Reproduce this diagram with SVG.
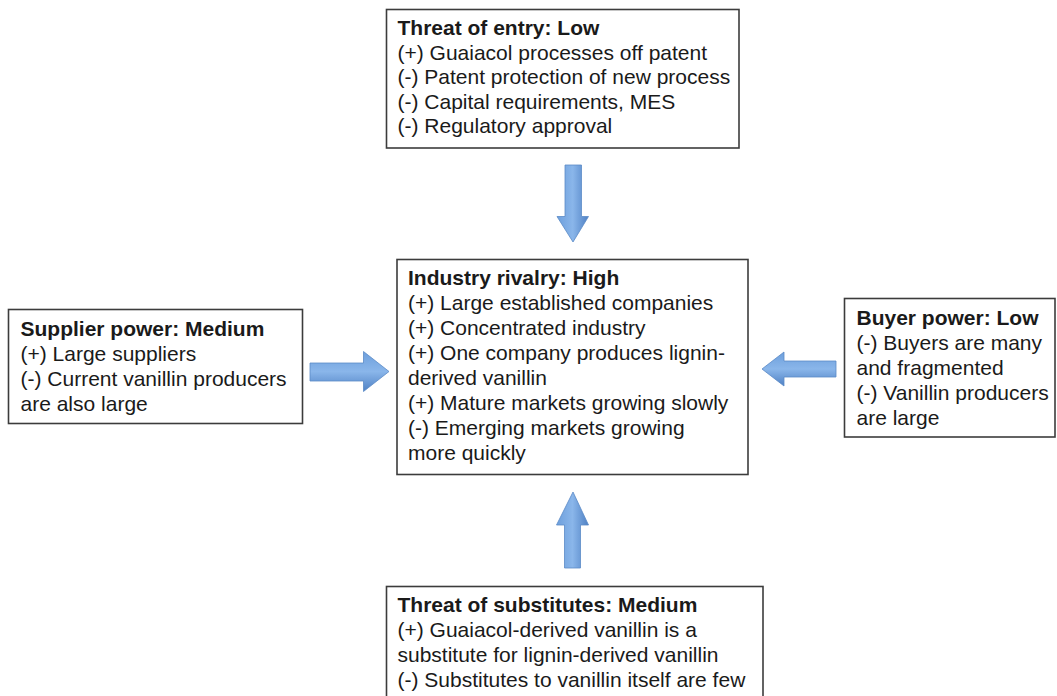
<svg xmlns="http://www.w3.org/2000/svg" width="1057" height="696" viewBox="0 0 1057 696">
<defs>
<linearGradient id="gv" x1="0" y1="0" x2="1" y2="0">
<stop offset="0" stop-color="#6d9fdc"/>
<stop offset="0.5" stop-color="#8ab6ea"/>
<stop offset="1" stop-color="#4f81c4"/>
</linearGradient>
<linearGradient id="gh" x1="0" y1="0" x2="0" y2="1">
<stop offset="0" stop-color="#6d9fdc"/>
<stop offset="0.5" stop-color="#8ab6ea"/>
<stop offset="1" stop-color="#4f81c4"/>
</linearGradient>
</defs>
<style>
.box{fill:#fff;stroke:#3c3c3c;stroke-width:1.6}
text{font-family:"Liberation Sans",Arial,sans-serif;font-size:21px;fill:#1a1a1a}
.t{font-weight:bold}
.av{fill:url(#gv);stroke:#5a8ac6;stroke-width:0.8}
.ah{fill:url(#gh);stroke:#5a8ac6;stroke-width:0.8}
</style>
<rect width="1057" height="696" fill="#fff"/>
<g id="connectors">
<path class="av" d="M565,165 H581.5 V216.5 H588.5 L573,242 L557,216.5 H565 Z"/>
<path class="av" d="M564.5,568 H580.5 V525 H588.5 L573,492 L556.5,525 H564.5 Z"/>
<path class="ah" d="M310,363 V381 H363.5 V391.5 L389,371.5 L363.5,351.5 V363 Z"/>
<path class="ah" d="M836,361 V377 H784 V386 L762,369 L784,352 V361 Z"/>
</g>
<g id="entry">
<rect class="box" x="386.5" y="9.5" width="352.5" height="138.5"/>
<text x="397.5" y="35" class="t">Threat of entry: Low</text>
<text x="397.5" y="59.5">(+) Guaiacol processes off patent</text>
<text x="397.5" y="84">(-) Patent protection of new process</text>
<text x="397.5" y="108.5">(-) Capital requirements, MES</text>
<text x="397.5" y="133">(-) Regulatory approval</text>
</g>
<g id="rivalry">
<rect class="box" x="397" y="259.5" width="351" height="215"/>
<text x="408" y="285" class="t">Industry rivalry: High</text>
<text x="408" y="310">(+) Large established companies</text>
<text x="408" y="335">(+) Concentrated industry</text>
<text x="408" y="360">(+) One company produces lignin-</text>
<text x="408" y="385">derived vanillin</text>
<text x="408" y="410">(+) Mature markets growing slowly</text>
<text x="408" y="435">(-) Emerging markets growing</text>
<text x="408" y="460">more quickly</text>
</g>
<g id="supplier">
<rect class="box" x="8.5" y="309.5" width="294" height="114"/>
<text x="20.5" y="336" class="t">Supplier power: Medium</text>
<text x="20.5" y="361">(+) Large suppliers</text>
<text x="20.5" y="386">(-) Current vanillin producers</text>
<text x="20.5" y="411">are also large</text>
</g>
<g id="buyer">
<rect class="box" x="844.5" y="298.5" width="210.5" height="138.5"/>
<text x="856.5" y="325" class="t">Buyer power: Low</text>
<text x="856.5" y="350">(-) Buyers are many</text>
<text x="856.5" y="375">and fragmented</text>
<text x="856.5" y="400">(-) Vanillin producers</text>
<text x="856.5" y="424.5">are large</text>
</g>
<g id="substitutes">
<rect class="box" x="386.5" y="586.5" width="376.5" height="140"/>
<text x="397.5" y="612" class="t">Threat of substitutes: Medium</text>
<text x="397.5" y="637">(+) Guaiacol-derived vanillin is a</text>
<text x="397.5" y="662">substitute for lignin-derived vanillin</text>
<text x="397.5" y="687">(-) Substitutes to vanillin itself are few</text>
</g>
</svg>
